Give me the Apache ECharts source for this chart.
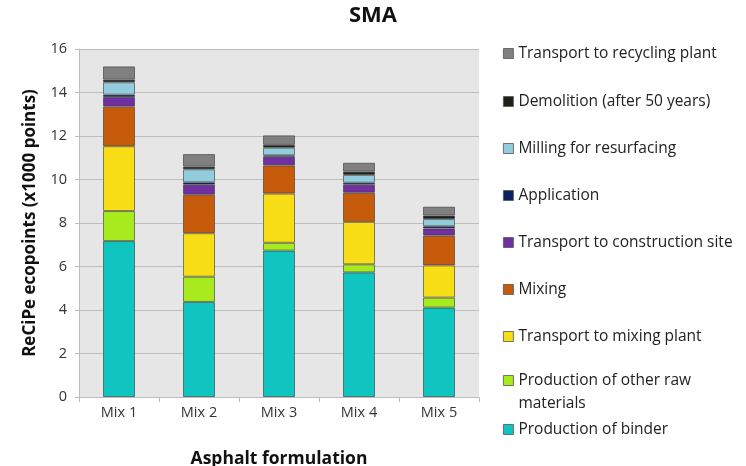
<!DOCTYPE html>
<html>
<head>
<meta charset="utf-8">
<script src="https://cdn.jsdelivr.net/npm/echarts@6/dist/echarts.min.js"></script>
<style>
  html, body { margin: 0; padding: 0; background: #fff; }
  #chart { width: 746px; height: 466px; }
</style>
</head>
<body>
<div id="chart"></div>
<script>
// Asphalt formulations on the x axis
const categories = ['Mix 1', 'Mix 2', 'Mix 3', 'Mix 4', 'Mix 5'];

// Life-cycle stage contributions (x1000 ReCiPe points), bottom to top
const productionOfBinder      = [7.17, 4.37, 6.73, 5.73, 4.11];
const productionOfOtherRaw    = [1.38, 1.16, 0.36, 0.37, 0.46];
const transportToMixingPlant  = [2.98, 2.00, 2.26, 1.95, 1.48];
const mixing                  = [1.82, 1.77, 1.30, 1.34, 1.37];
const transportToConstruction = [0.44, 0.46, 0.40, 0.37, 0.33];
const application             = [0.11, 0.11, 0.06, 0.09, 0.10];
const millingForResurfacing   = [0.57, 0.60, 0.35, 0.36, 0.33];
const demolition              = [0.12, 0.12, 0.13, 0.15, 0.16];
const transportToRecycling    = [0.61, 0.58, 0.44, 0.41, 0.41];

const yTicks = [0, 2, 4, 6, 8, 10, 12, 14, 16];

const stages = [
  { name: 'Production of binder', data: productionOfBinder, color: '#10C5BF' },
  { name: 'Production of other raw materials', data: productionOfOtherRaw, color: '#A7EB1F' },
  { name: 'Transport to mixing plant', data: transportToMixingPlant, color: '#F8DE16' },
  { name: 'Mixing', data: mixing, color: '#C65B0B' },
  { name: 'Transport to construction site', data: transportToConstruction, color: '#7030A0' },
  { name: 'Application', data: application, color: '#0B2060' },
  { name: 'Milling for resurfacing', data: millingForResurfacing, color: '#93CDDD' },
  { name: 'Demolition (after 50 years)', data: demolition, color: '#1E1E1A' },
  { name: 'Transport to recycling plant', data: transportToRecycling, color: '#808080' }
];

const font = '"Open Sans", "Noto Sans", sans-serif';
const legendFontSize = 15.5;
const legendLine = 23;

// Vertical centre of each legend swatch; the list runs top-down like the stack
const legendCentres = {
  'Transport to recycling plant': 52,
  'Demolition (after 50 years)': 100,
  'Milling for resurfacing': 147,
  'Application': 194,
  'Transport to construction site': 241,
  'Mixing': 288,
  'Transport to mixing plant': 335,
  'Production of other raw materials': 380,
  'Production of binder': 428
};

const wrapped = 'Production of other raw materials';

const legends = stages.map(s => {
  const twoLines = s.name === wrapped;
  return {
    data: [s.name],
    left: 503,
    // offset from the legend box top to the swatch centre
    top: legendCentres[s.name] - (twoLines ? 7.5 : 6.5),
    padding: 0,
    itemWidth: 10,
    itemHeight: 10,
    itemGap: 0,
    icon: 'rect',
    selectedMode: false,
    itemStyle: { borderColor: '#555', borderWidth: 0.8 },
    formatter: name => name === wrapped
      ? '{a|Production of other raw}\n{a|materials}' : '{a|' + name + '}',
    textStyle: {
      fontFamily: font, fontSize: legendFontSize, color: '#222',
      // a wrapped label is padded on top so its first line sits level with the swatch
      padding: twoLines ? [legendLine, 0, 0, 0] : 0,
      rich: { a: { fontFamily: font, fontSize: legendFontSize, color: '#222', lineHeight: legendLine } }
    }
  };
});

const chart = echarts.init(document.getElementById('chart'));
chart.setOption({
  animation: false,
  title: {
    text: 'SMA',
    left: 373,
    top: 5,
    textAlign: 'center',
    padding: 0,
    textStyle: { fontFamily: font, fontSize: 22, fontWeight: 'bold', color: '#111' }
  },
  legend: legends,
  grid: {
    left: 79, right: 267, top: 49, bottom: 69,
    outerBoundsMode: 'none', containLabel: false,
    show: true, backgroundColor: '#E6E6E6', borderWidth: 0
  },
  xAxis: {
    type: 'category',
    data: categories,
    name: 'Asphalt formulation',
    nameLocation: 'middle',
    nameGap: 53,
    nameTextStyle: { fontFamily: font, fontSize: 17.5, fontWeight: 'bold', color: '#111' },
    axisLine: { lineStyle: { color: '#BDBDBD', width: 1 } },
    axisTick: { show: true, length: 5, lineStyle: { color: '#BDBDBD' } },
    axisLabel: { fontFamily: font, fontSize: 14.5, color: '#333', margin: 8 }
  },
  yAxis: {
    type: 'value',
    min: yTicks[0],
    max: yTicks[yTicks.length - 1],
    interval: 2,
    name: 'ReCiPe ecopoints (x1000 points)',
    nameLocation: 'middle',
    nameGap: 40,
    nameTextStyle: { fontFamily: font, fontSize: 17, fontWeight: 'bold', color: '#111' },
    axisLine: { show: true, lineStyle: { color: '#BDBDBD', width: 1 } },
    axisTick: { show: true, length: 4, lineStyle: { color: '#BDBDBD' } },
    axisLabel: { fontFamily: font, fontSize: 14.5, color: '#333', margin: 12 },
    splitLine: { lineStyle: { color: '#BDBDBD', width: 1 } }
  },
  series: stages.map(s => ({
    name: s.name,
    type: 'bar',
    stack: 'total',
    data: s.data,
    barWidth: '40%',
    itemStyle: { color: s.color, borderColor: 'rgba(40,40,40,0.55)', borderWidth: 1 }
  }))
});
</script>
</body>
</html>
